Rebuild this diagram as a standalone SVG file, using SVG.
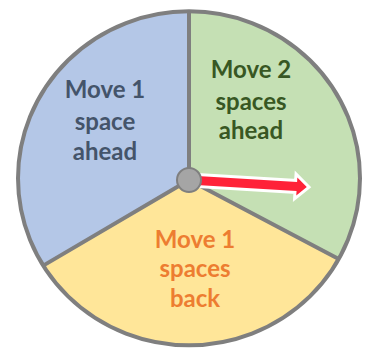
<svg xmlns="http://www.w3.org/2000/svg" width="370" height="350" viewBox="0 0 370 350">
<style>
.lbl{font-family:Lato,"Liberation Sans",sans-serif;font-weight:bold;font-size:24px;text-anchor:middle}
.div{stroke:#7F7F7F;stroke-width:4;fill:none}
</style>
<rect width="370" height="350" fill="#FFFFFF"/>
<g id="sector-blue">
<path d="M189,180 L43.2,265.6 A171,167 0 0,1 189,11.3 Z" fill="#B4C7E7"/>
<text class="lbl" fill="#44546A"><tspan x="105" y="98">Move 1</tspan><tspan x="105" y="130">space</tspan><tspan x="105" y="160">ahead</tspan></text>
</g>
<g id="sector-green">
<path d="M189,180 L189,11.3 A171,167 0 0,1 338.7,259 Z" fill="#C5E0B4"/>
<text class="lbl" fill="#385723"><tspan x="251" y="78">Move 2</tspan><tspan x="251" y="110">spaces</tspan><tspan x="251" y="139">ahead</tspan></text>
</g>
<g id="sector-yellow">
<path d="M189,180 L338.7,259 A171,167 0 0,1 43.2,265.6 Z" fill="#FFE699"/>
<text class="lbl" fill="#ED7D31"><tspan x="195" y="248">Move 1</tspan><tspan x="195" y="277">spaces</tspan><tspan x="195" y="307">back</tspan></text>
</g>
<g id="outline">
<ellipse cx="189" cy="178.3" rx="171" ry="167" class="div"/>
<path class="div" d="M189,180 L189,11.3 M189,180 L338.7,259 M189,180 L43.2,265.6"/>
</g>
<g id="spinner">
<polygon transform="rotate(3.4 189 180)" points="197,175.5 297,175.5 297,171 307,180 297,189 297,184.5 197,184.5" fill="#FF2238" stroke="#FFFFFF" stroke-width="6" stroke-linejoin="miter" paint-order="stroke"/>
<circle cx="189" cy="180" r="12" fill="#A5A5A5" stroke="#7F7F7F" stroke-width="2"/>
</g>
</svg>
